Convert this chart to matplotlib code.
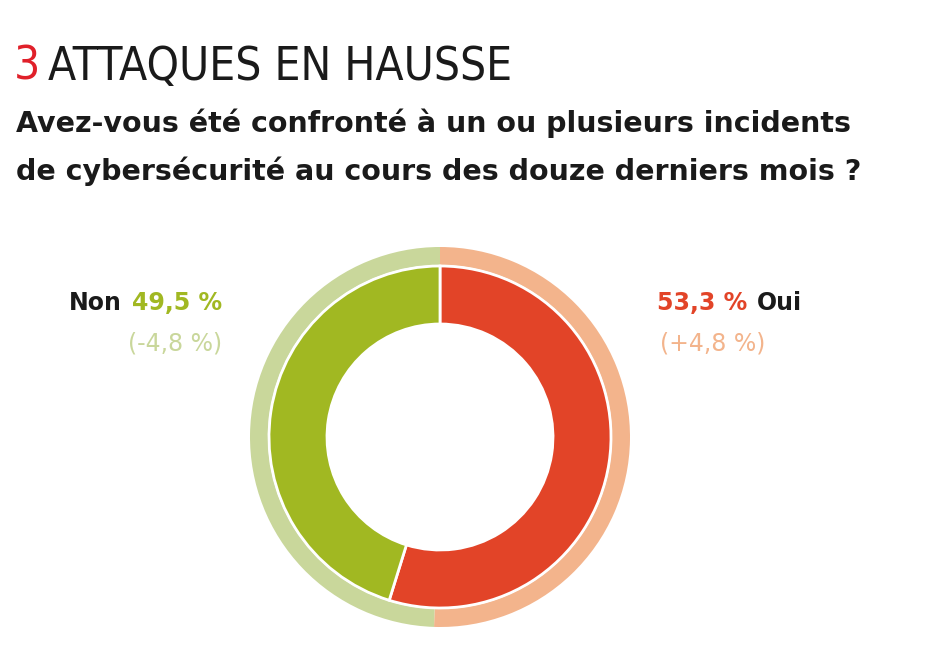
import matplotlib
matplotlib.use("Agg")
import matplotlib.pyplot as plt

categories = ["Oui", "Non"]
current = [54.8, 45.2]
previous = [50.5, 49.5]
label_values = ["53,3 %", "49,5 %"]
change_labels = ["(+4,8 %)", "(-4,8 %)"]

fig = plt.figure(figsize=(9.29, 6.5), dpi=100)
ax = fig.add_axes([240/929, 13/650, 400/929, 400/650])
ax.set_xlim(-200, 200); ax.set_ylim(-200, 200); ax.set_aspect("equal"); ax.axis("off")

ax.pie(previous, radius=190, startangle=90, counterclock=False,
       colors=["#F3B48C", "#C9D79B"], wedgeprops=dict(width=18, edgecolor="white", linewidth=0))
ax.pie(current, radius=171, startangle=90, counterclock=False,
       colors=["#E24428", "#A1B822"], wedgeprops=dict(width=58, edgecolor="white", linewidth=2))
ax.set_xlim(-200, 200); ax.set_ylim(-200, 200)

font = "DejaVu Sans"
fig.text(14/929, 1-80/650, "3", color="#E0202A", fontsize=33, family=font, stretch="condensed")
fig.text(48/929, 1-80/650, "ATTAQUES EN HAUSSE", color="#1a1a1a", fontsize=33, family=font, stretch="condensed")
fig.text(16/929, 1-132/650, "Avez-vous été confronté à un ou plusieurs incidents", fontsize=20.5, weight="bold", color="#1a1a1a")
fig.text(16/929, 1-180/650, "de cybersécurité au cours des douze derniers mois ?", fontsize=20.5, weight="bold", color="#1a1a1a")

fig.text(657/929, 1-310/650, label_values[0], fontsize=17, weight="bold", color="#E24428")
fig.text(757/929, 1-310/650, categories[0], fontsize=17, weight="bold", color="#1a1a1a")
fig.text(660/929, 1-350/650, change_labels[0], fontsize=17, color="#F3B48C")
fig.text(222/929, 1-310/650, label_values[1], fontsize=17, weight="bold", color="#A1B822", ha="right")
fig.text(122/929, 1-310/650, categories[1], fontsize=17, weight="bold", color="#1a1a1a", ha="right")
fig.text(222/929, 1-350/650, change_labels[1], fontsize=17, color="#C9D79B", ha="right")

fig.savefig("out.png", dpi=100)
